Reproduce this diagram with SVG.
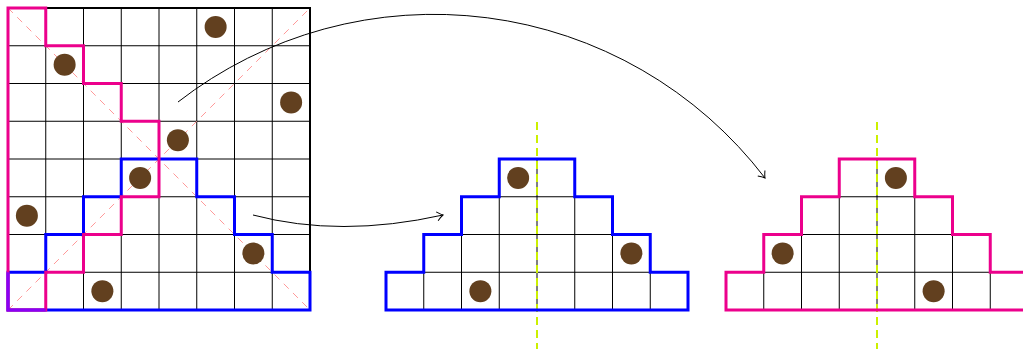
<svg xmlns="http://www.w3.org/2000/svg" width="1023" height="349" viewBox="0 0 1023 349">
<style>
.cell{fill:none;stroke:#000;stroke-width:1}
.border{fill:none;stroke:#000;stroke-width:2}
.dot{fill:#62401f}
.blue{fill:none;stroke:#0000ff;stroke-width:3;stroke-linejoin:miter}
.pink{fill:none;stroke:#ec008c;stroke-width:3;stroke-linejoin:miter}
.diag{stroke:#ff9999;stroke-width:1;stroke-dasharray:7 6;fill:none}
.axis{stroke:#ccf000;stroke-width:2;stroke-dasharray:8 5;fill:none}
.conn{fill:none;stroke:#000;stroke-width:1}
</style>
<defs>
<marker id="arr" viewBox="-8 -6 10 12" markerWidth="10" markerHeight="12" refX="0" refY="0" orient="auto" markerUnits="userSpaceOnUse">
<path d="M-6,-4.5 Q-2,-1 0,0 Q-2,1 -6,4.5" fill="none" stroke="#000" stroke-width="1"/>
</marker>
</defs>
<rect width="1023" height="349" fill="#fff"/>

<g id="grid">
<path class="cell" d="M45.75,8V310M83.5,8V310M121.25,8V310M159,8V310M196.75,8V310M234.5,8V310M272.25,8V310M8,45.75H310M8,83.5H310M8,121.25H310M8,159H310M8,196.75H310M8,234.5H310M8,272.25H310"/>
<rect class="border" x="8" y="8" width="302" height="302"/>
<line class="diag" x1="8" y1="8" x2="310" y2="310"/>
<line class="diag" x1="8" y1="310" x2="310" y2="8"/>
<path class="blue" d="M8,272.25H45.75V234.5H83.5V196.75H121.25V159H196.75V196.75H234.5V234.5H272.25V272.25H310V310H8Z"/>
<path class="pink" d="M8,8H45.75V45.75H83.5V83.5H121.25V121.25H159V196.75H121.25V234.5H83.5V272.25H45.75V310H8Z"/>
<path d="M8,272.25V310H45.75" fill="none" stroke="#8a00f5" stroke-width="3"/>
<circle class="dot" cx="215.625" cy="26.875" r="11"/>
<circle class="dot" cx="64.625" cy="64.625" r="11"/>
<circle class="dot" cx="291.125" cy="102.375" r="11"/>
<circle class="dot" cx="177.875" cy="140.125" r="11"/>
<circle class="dot" cx="140.125" cy="177.875" r="11"/>
<circle class="dot" cx="26.875" cy="215.625" r="11"/>
<circle class="dot" cx="253.375" cy="253.375" r="11"/>
<circle class="dot" cx="102.375" cy="291.125" r="11"/>
</g>

<g id="blue-shape">
<path class="cell" d="M386,272.25H688M423.75,234.5H650.25M461.5,196.75H612.5M423.75,272.25V310M461.5,234.5V310M499.25,196.75V310M537,159V310M574.75,196.75V310M612.5,234.5V310M650.25,272.25V310"/>
<line class="axis" x1="537" y1="122" x2="537" y2="349"/>
<path class="blue" d="M386,272.25H423.75V234.5H461.5V196.75H499.25V159H574.75V196.75H612.5V234.5H650.25V272.25H688V310H386Z"/>
<circle class="dot" cx="518.125" cy="177.875" r="11"/>
<circle class="dot" cx="631.375" cy="253.375" r="11"/>
<circle class="dot" cx="480.375" cy="291.125" r="11"/>
</g>

<g id="pink-shape">
<path class="cell" d="M726,272.25H1028M763.75,234.5H990.25M801.5,196.75H952.5M763.75,272.25V310M801.5,234.5V310M839.25,196.75V310M877,159V310M914.75,196.75V310M952.5,234.5V310M990.25,272.25V310"/>
<line class="axis" x1="877" y1="122" x2="877" y2="349"/>
<path class="pink" d="M726,272.25H763.75V234.5H801.5V196.75H839.25V159H914.75V196.75H952.5V234.5H990.25V272.25H1028V310H726Z"/>
<circle class="dot" cx="895.875" cy="177.875" r="11"/>
<circle class="dot" cx="782.625" cy="253.375" r="11"/>
<circle class="dot" cx="933.625" cy="291.125" r="11"/>
</g>

<g id="connectors">
<path class="conn" d="M178,102A417,417 0 0 1 765,178" marker-end="url(#arr)"/>
<path class="conn" d="M253,215Q340,238 443,215" marker-end="url(#arr)"/>
</g>
</svg>
